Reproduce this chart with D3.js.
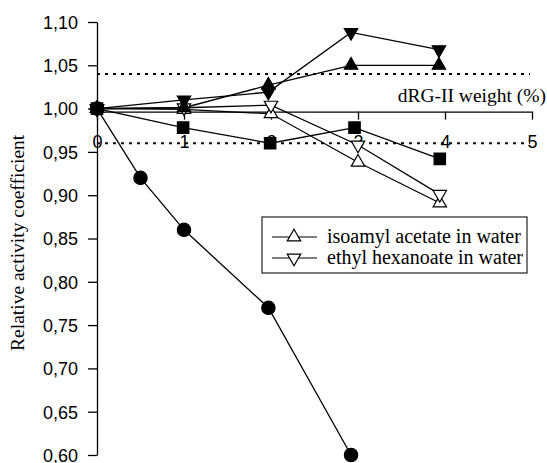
<!DOCTYPE html>
<html>
<head>
<meta charset="utf-8">
<script src="https://cdn.jsdelivr.net/npm/d3@7"></script>
<style>
  html, body { margin: 0; padding: 0; background: #fff; }
  svg { display: block; }
</style>
</head>
<body>
<svg id="chart" width="547" height="463"></svg>
<script>
// Relative activity coefficient vs dRG-II weight (%)
const yTicks = [0.60, 0.65, 0.70, 0.75, 0.80, 0.85, 0.90, 0.95, 1.00, 1.05, 1.10];
const xTicks = [0, 1, 2, 3, 4, 5];
const refLines = [1.04, 0.96];

const xCircle = [0, 0.5, 1.0, 1.97, 2.92];
const yCircle = [1.00, 0.92, 0.86, 0.77, 0.60];

const xSquare = [0, 0.99, 1.99, 2.96, 3.94];
const ySquare = [1.00, 0.978, 0.960, 0.978, 0.942];

const xFilledDown = [0, 1.0, 1.97, 2.92, 3.93];
const yFilledDown = [1.00, 1.010, 1.019, 1.088, 1.068];

const xFilledUp = [0, 1.0, 1.97, 2.92, 3.93];
const yFilledUp = [1.00, 1.001, 1.027, 1.050, 1.050];

const xOpen = [0, 1.0, 2.0, 3.0, 3.94];
const yIsoamyl = [1.00, 0.999, 0.994, 0.938, 0.891];   // isoamyl acetate in water
const yEthylHex = [1.00, 1.001, 1.004, 0.958, 0.901];  // ethyl hexanoate in water

const legendLabels = ["isoamyl acetate in water", "ethyl hexanoate in water"];

const svg = d3.select("#chart");
const x = d3.scaleLinear().domain([0, 5]).range([97, 532]);
const y = d3.scaleLinear().domain([0.60, 1.10]).range([455, 22]);

const sans = "'Liberation Sans', Arial, sans-serif";
const serif = "'Liberation Serif', 'Times New Roman', serif";

// dotted reference lines
svg.selectAll("line.ref").data(refLines).join("line")
  .attr("class", "ref")
  .attr("x1", x(0)).attr("x2", x(5) - 2)
  .attr("y1", d => y(d)).attr("y2", d => y(d))
  .attr("stroke", "#000").attr("stroke-width", 2)
  .attr("stroke-dasharray", "3,5");

// y axis
const yAxis = svg.append("g")
  .attr("transform", `translate(${x(0)},0)`)
  .call(d3.axisLeft(y).tickValues(yTicks).tickSize(9).tickSizeOuter(0)
    .tickFormat(d => d3.format(".2f")(d).replace(".", ",")));
yAxis.select(".domain").attr("stroke", "#000").attr("stroke-width", 1.3);
yAxis.selectAll(".tick line").attr("stroke", "#000").attr("stroke-width", 1.3);
yAxis.selectAll(".tick text")
  .attr("x", -19).attr("dy", "0.35em")
  .style("font-family", sans).style("font-size", "18px").attr("fill", "#000");

// x axis crossing near 1.00
const xAxisY = y(0.9965);
const xAxis = svg.append("g")
  .attr("transform", `translate(0,${xAxisY})`)
  .call(d3.axisBottom(x).tickValues(xTicks).tickSize(8).tickSizeOuter(0)
    .tickFormat(d3.format("d")));
xAxis.select(".domain").attr("stroke", "#000").attr("stroke-width", 1.3);
xAxis.selectAll(".tick line").attr("stroke", "#000").attr("stroke-width", 1.3);
xAxis.selectAll(".tick text")
  .attr("y", 36).attr("dy", 0)
  .style("font-family", sans).style("font-size", "18px").attr("fill", "#000");

svg.append("text")
  .attr("x", 546).attr("y", 102)
  .attr("text-anchor", "end")
  .style("font-family", serif).style("font-size", "19.5px")
  .text("dRG-II weight (%)");

svg.append("text")
  .attr("transform", `translate(24,${y(0.845)}) rotate(-90)`)
  .attr("text-anchor", "middle")
  .style("font-family", serif).style("font-size", "19.5px")
  .text("Relative activity coefficient");

// series
const line = d3.line().x(d => x(d[0])).y(d => y(d[1]));
const zip = (xs, ys) => xs.map((v, i) => [v, ys[i]]);

const series = [
  { pts: zip(xOpen, yIsoamyl), shape: "triUp", fill: "#fff" },
  { pts: zip(xOpen, yEthylHex), shape: "triDown", fill: "#fff" },
  { pts: zip(xSquare, ySquare), shape: "square", fill: "#000" },
  { pts: zip(xFilledUp, yFilledUp), shape: "triUp", fill: "#000" },
  { pts: zip(xFilledDown, yFilledDown), shape: "triDown", fill: "#000" },
  { pts: zip(xCircle, yCircle), shape: "circle", fill: "#000" }
];

const symbolFor = {
  triUp: d3.symbol(d3.symbolTriangle, 78)(),
  triDown: d3.symbol(d3.symbolTriangle, 78)(),
  square: d3.symbol(d3.symbolSquare, 130)(),
  circle: d3.symbol(d3.symbolCircle, 140)()
};

series.forEach(s => {
  svg.append("path").datum(s.pts)
    .attr("d", line).attr("fill", "none")
    .attr("stroke", "#000").attr("stroke-width", 1.3);
});
series.forEach(s => {
  svg.selectAll(null).data(s.pts).join("path")
    .attr("d", symbolFor[s.shape])
    .attr("transform", d => `translate(${x(d[0])},${y(d[1])})` + (s.shape === "triDown" ? " rotate(180)" : ""))
    .attr("fill", s.fill).attr("stroke", "#000").attr("stroke-width", 1.2);
});

// legend
const lg = svg.append("g");
lg.append("rect")
  .attr("x", 262).attr("y", 217).attr("width", 265).attr("height", 56)
  .attr("fill", "#fff").attr("stroke", "#222").attr("stroke-width", 1.2);
const legendShapes = ["triUp", "triDown"];
legendLabels.forEach((lab, i) => {
  const ly = 237 + i * 21;
  lg.append("line").attr("x1", 272).attr("x2", 317).attr("y1", ly).attr("y2", ly)
    .attr("stroke", "#000").attr("stroke-width", 1.2);
  lg.append("path").attr("d", symbolFor[legendShapes[i]])
    .attr("transform", `translate(294,${ly})` + (i === 1 ? " rotate(180)" : ""))
    .attr("fill", "#fff").attr("stroke", "#000").attr("stroke-width", 1.2);
  lg.append("text").attr("x", 327).attr("y", ly + 6)
    .style("font-family", serif).style("font-size", "20px")
    .text(lab);
});
</script>
</body>
</html>
